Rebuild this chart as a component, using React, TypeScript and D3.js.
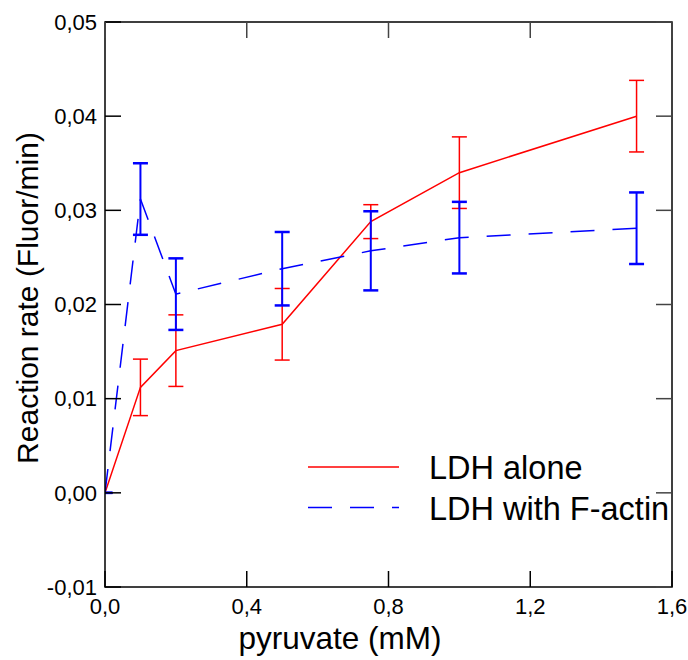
import React from "react";
import * as d3 from "d3";

const pyruvate = [0, 0.1, 0.2, 0.5, 0.75, 1.0, 1.5];
const ldhAlone = [0, 0.0112, 0.0151, 0.0179, 0.0288, 0.034, 0.04];
const ldhAloneErr = [0, 0.003, 0.0038, 0.0038, 0.0018, 0.0038, 0.0038];
const ldhActin = [0, 0.0312, 0.0211, 0.0238, 0.0257, 0.0271, 0.0281];
const ldhActinErr = [0, 0.0038, 0.0038, 0.0039, 0.0042, 0.0038, 0.0038];

const xTicks = [0, 0.4, 0.8, 1.2, 1.6];
const yTicks = [-0.01, 0, 0.01, 0.02, 0.03, 0.04, 0.05];

const seriesNames = ["LDH alone", "LDH with F-actin"];

const locale = d3.formatLocale({
  decimal: ",",
  thousands: ".",
  grouping: [3],
  currency: ["", ""],
  minus: "-",
});
const fmtX = locale.format(".1f");
const fmtY = locale.format(".2f");

const W = 688;
const H = 660;
const left = 105;
const right = 672;
const top = 22;
const bottom = 587;
const tickLen = 16;
const font = "'Liberation Sans', Arial, sans-serif";

export default function App() {
  const x = d3.scaleLinear().domain([0, 1.6]).range([left, right]);
  const y = d3.scaleLinear().domain([-0.01, 0.05]).range([bottom, top]);

  const pts = (vals: number[]) => pyruvate.map((p, i) => [p, vals[i]] as [number, number]);
  const line = d3
    .line<[number, number]>()
    .x((d) => x(d[0]))
    .y((d) => y(d[1]));

  const series = [
    { vals: ldhAlone, err: ldhAloneErr, color: "#ff0000", dash: undefined, barW: 1.5, capW: 1.5 },
    { vals: ldhActin, err: ldhActinErr, color: "#0000ff", dash: "24,18", barW: 2, capW: 2.5 },
  ];

  return (
    <div style={{ position: "absolute", left: 0, top: 0 }}>
      <svg width={W} height={H} style={{ display: "block", background: "#fff" }}>
        <defs>
          <clipPath id="plot">
            <rect x={left} y={top} width={right - left} height={bottom - top} />
          </clipPath>
        </defs>

        <g clipPath="url(#plot)">
          {series.map((s, si) => (
            <g key={si}>
              {pyruvate.map((p, i) => {
                const cx = x(p);
                const y1 = y(s.vals[i] + s.err[i]);
                const y2 = y(s.vals[i] - s.err[i]);
                return (
                  <g key={i} stroke={s.color}>
                    <line x1={cx} x2={cx} y1={y1} y2={y2} strokeWidth={s.barW} />
                    <line x1={cx - 7.5} x2={cx + 7.5} y1={y1} y2={y1} strokeWidth={s.capW} />
                    <line x1={cx - 7.5} x2={cx + 7.5} y1={y2} y2={y2} strokeWidth={s.capW} />
                  </g>
                );
              })}
              <path
                d={line(pts(s.vals)) || ""}
                fill="none"
                stroke={s.color}
                strokeWidth={1.5}
                strokeDasharray={s.dash}
              />
            </g>
          ))}
        </g>

        {/* frame */}
        <rect
          x={left}
          y={top}
          width={right - left}
          height={bottom - top}
          fill="none"
          stroke="#000"
          strokeWidth={1.5}
        />

        {/* y ticks */}
        {yTicks.map((t) => (
          <g key={"y" + t}>
            <line x1={left} x2={left + tickLen} y1={y(t)} y2={y(t)} stroke="#000" strokeWidth={1.5} />
            <line x1={right - tickLen} x2={right} y1={y(t)} y2={y(t)} stroke="#444" strokeWidth={1.5} />
            <text
              x={left - 8}
              y={y(t)}
              dy="0.35em"
              textAnchor="end"
              fontFamily={font}
              fontSize={22}
              fill="#000"
            >
              {fmtY(t)}
            </text>
          </g>
        ))}

        {/* x ticks */}
        {xTicks.map((t) => (
          <g key={"x" + t}>
            <line x1={x(t)} x2={x(t)} y1={bottom} y2={bottom - tickLen} stroke="#000" strokeWidth={1.5} />
            <line x1={x(t)} x2={x(t)} y1={top} y2={top + tickLen} stroke="#444" strokeWidth={1.5} />
            <text
              x={x(t)}
              y={bottom + 27}
              textAnchor="middle"
              fontFamily={font}
              fontSize={22}
              fill="#000"
            >
              {fmtX(t)}
            </text>
          </g>
        ))}

        {/* axis titles */}
        <text
          x={340}
          y={649}
          textAnchor="middle"
          fontFamily={font}
          fontSize={31.5}
          fill="#000"
        >
          pyruvate (mM)
        </text>
        <text
          transform={`translate(38,298) rotate(-90)`}
          textAnchor="middle"
          fontFamily={font}
          fontSize={30}
          fill="#000"
        >
          Reaction rate (Fluor/min)
        </text>

        {/* legend */}
        {series.map((s, si) => (
          <g key={"lg" + si}>
            <line
              x1={308}
              x2={399}
              y1={467 + si * 40.5}
              y2={467 + si * 40.5}
              stroke={s.color}
              strokeWidth={1.5}
              strokeDasharray={s.dash}
            />
            <text
              x={429}
              y={479 + si * 40.5}
              fontFamily={font}
              fontSize={32.5}
              fill="#000"
            >
              {seriesNames[si]}
            </text>
          </g>
        ))}
      </svg>
    </div>
  );
}
